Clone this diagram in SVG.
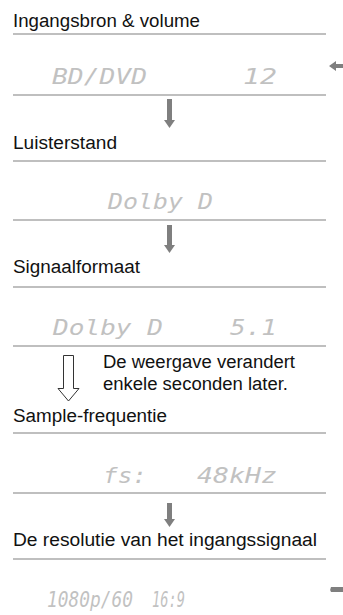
<svg xmlns="http://www.w3.org/2000/svg" width="343" height="615" viewBox="0 0 343 615">
<defs>
<pattern id="dots" width="2" height="2" patternUnits="userSpaceOnUse">
<rect width="2" height="2" fill="#ffffff"/>
<rect x="0.4" y="0.4" width="1.2" height="1.2" fill="#555555"/>
</pattern>
</defs>
<style>
.lbl{font-family:"Liberation Sans",Arial,sans-serif;font-size:18px;fill:#111111}
.lcd{font-family:"DejaVu Sans Mono","Liberation Mono",monospace;font-size:22px;font-style:oblique;fill:url(#dots)}
.rule{stroke:#808080;stroke-width:1.2;fill:none}
.arr{fill:#7f7f7f;stroke:none}
.harr{fill:#ffffff;stroke:#333333;stroke-width:1}
</style>
<rect width="343" height="615" fill="#ffffff"/>
<g id="rules">
<line class="rule" x1="13" y1="34" x2="326" y2="34"/>
<line class="rule" x1="13" y1="95" x2="326" y2="95"/>
<line class="rule" x1="13" y1="161" x2="326" y2="161"/>
<line class="rule" x1="13" y1="220" x2="326" y2="220"/>
<line class="rule" x1="13" y1="287" x2="326" y2="287"/>
<line class="rule" x1="13" y1="346" x2="326" y2="346"/>
<line class="rule" x1="13" y1="433" x2="326" y2="433"/>
<line class="rule" x1="13" y1="493" x2="326" y2="493"/>
<line class="rule" x1="13" y1="559" x2="326" y2="559"/>
</g>
<g id="node-input">
<text class="lbl" x="13" y="27" textLength="187" lengthAdjust="spacingAndGlyphs">Ingangsbron &amp; volume</text>
<text class="lcd" x="52" y="84" textLength="95" lengthAdjust="spacingAndGlyphs">BD/DVD</text>
<text class="lcd" x="243" y="84" textLength="34" lengthAdjust="spacingAndGlyphs">12</text>
</g>
<g id="node-listening">
<text class="lbl" x="13" y="149" textLength="104" lengthAdjust="spacingAndGlyphs">Luisterstand</text>
<text class="lcd" x="108" y="209" textLength="105" lengthAdjust="spacingAndGlyphs">Dolby D</text>
</g>
<g id="node-signal">
<text class="lbl" x="13" y="273" textLength="127" lengthAdjust="spacingAndGlyphs">Signaalformaat</text>
<text class="lcd" x="53" y="335" textLength="110" lengthAdjust="spacingAndGlyphs">Dolby D</text>
<text class="lcd" x="230" y="335" textLength="47" lengthAdjust="spacingAndGlyphs">5.1</text>
</g>
<g id="node-note">
<text class="lbl" x="103" y="368" textLength="192" lengthAdjust="spacingAndGlyphs">De weergave verandert</text>
<text class="lbl" x="103" y="390" textLength="185" lengthAdjust="spacingAndGlyphs">enkele seconden later.</text>
</g>
<g id="node-sample">
<text class="lbl" x="13" y="422" textLength="154" lengthAdjust="spacingAndGlyphs">Sample-frequentie</text>
<text class="lcd" x="103" y="483" textLength="44" lengthAdjust="spacingAndGlyphs">fs:</text>
<text class="lcd" x="197" y="483" textLength="80" lengthAdjust="spacingAndGlyphs">48kHz</text>
</g>
<g id="node-resolution">
<text class="lbl" x="13" y="546" textLength="304" lengthAdjust="spacingAndGlyphs">De resolutie van het ingangssignaal</text>
<text class="lcd" x="47" y="607" textLength="86" lengthAdjust="spacingAndGlyphs">1080p/60</text>
<text class="lcd" x="152" y="607" textLength="33" lengthAdjust="spacingAndGlyphs">16:9</text>
</g>
<g id="connectors">
<path class="arr" d="M167,99 H172 V120 H175 L169.5,128 L164,120 H167 Z"/>
<path class="arr" d="M167,225 H172 V245 H175 L169.5,253 L164,245 H167 Z"/>
<path class="arr" d="M167,503 H172 V519 H175 L169.5,527 L164,519 H167 Z"/>
<path class="harr" d="M63.5,355.5 H73.5 V388.5 H79 L68.5,401 L58,388.5 H63.5 Z"/>
<path class="arr" d="M329,66 L336,61 V64 H343 V68 H336 V71 Z"/>
<path class="arr" d="M331,587 H343 V592 H331 Q329.5,589.5 331,587 Z"/>
</g>
</svg>
